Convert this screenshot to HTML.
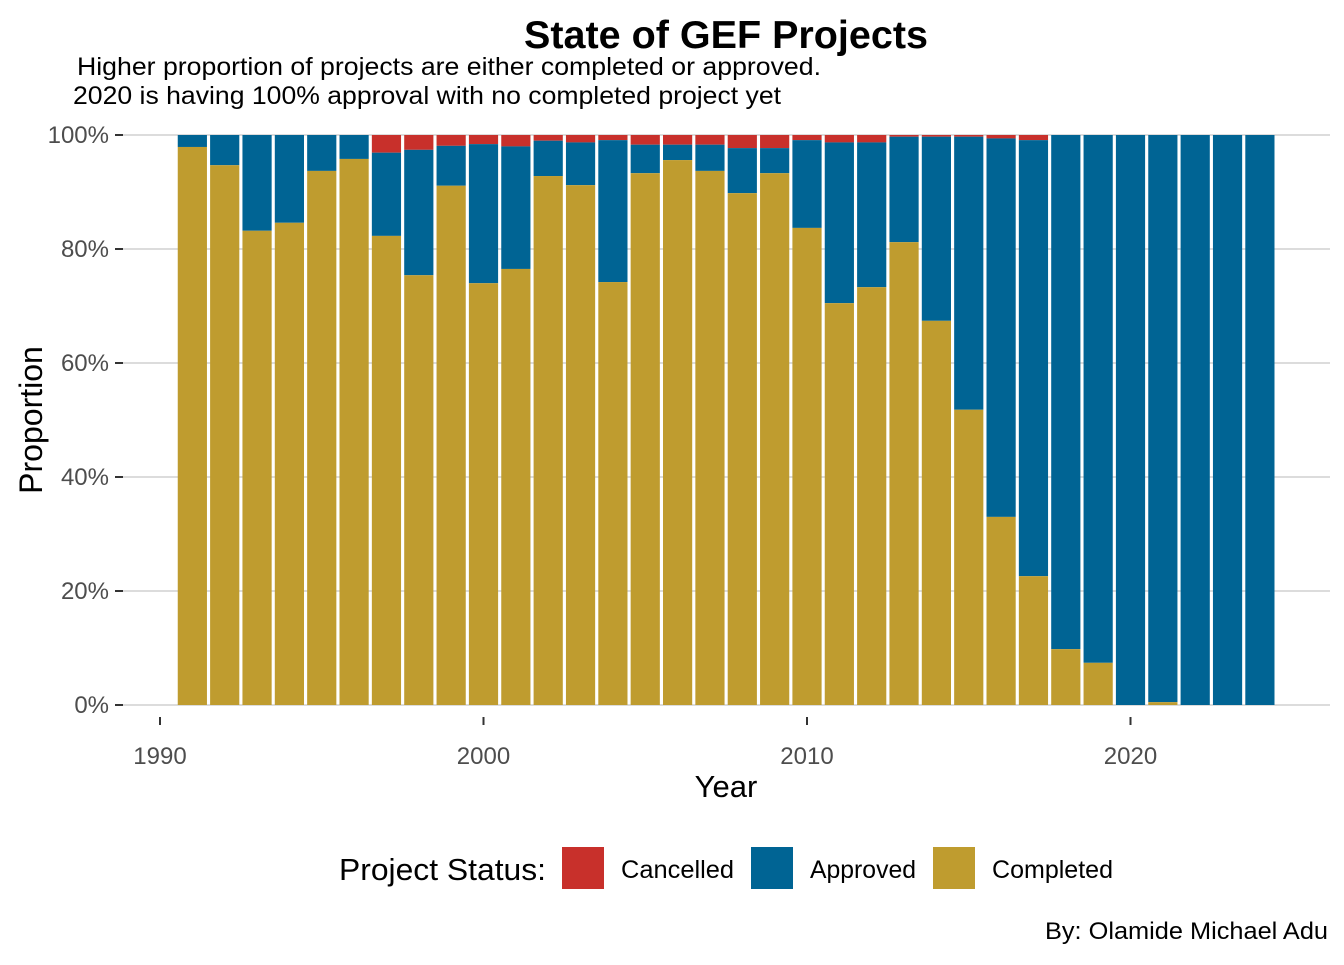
<!DOCTYPE html>
<html><head><meta charset="utf-8"><style>
body{margin:0;background:#fff;}
svg text{font-family:"Liberation Sans",sans-serif;}
</style></head><body>
<svg id="chart" width="1344" height="960" xmlns="http://www.w3.org/2000/svg">
<text x="524" y="48" textLength="404" lengthAdjust="spacingAndGlyphs" font-size="39" font-weight="bold" fill="#000">State of GEF Projects</text>
<text x="77" y="75" textLength="744" lengthAdjust="spacingAndGlyphs" font-size="25" fill="#000">Higher proportion of projects are either completed or approved.</text>
<text x="73" y="104" textLength="708" lengthAdjust="spacingAndGlyphs" font-size="25" fill="#000">2020 is having 100% approval with no completed project yet</text>
<g id="grid"></g>
<g id="bars"></g>
<g id="axes"></g>
<text x="726" y="797" text-anchor="middle" font-size="31" fill="#000">Year</text>
<text transform="translate(42,420) rotate(-90)" text-anchor="middle" font-size="32" fill="#000">Proportion</text>
<g>
<text x="339" y="880" textLength="207" lengthAdjust="spacingAndGlyphs" font-size="31" fill="#000">Project Status:</text>
<rect x="562" y="847" width="42" height="42" fill="#C8302B"/>
<text x="621" y="878" textLength="113" lengthAdjust="spacingAndGlyphs" font-size="25" fill="#000">Cancelled</text>
<rect x="751" y="847" width="42" height="42" fill="#006494"/>
<text x="810" y="878" textLength="106" lengthAdjust="spacingAndGlyphs" font-size="25" fill="#000">Approved</text>
<rect x="933" y="847" width="42" height="42" fill="#BF9C2F"/>
<text x="992" y="878" textLength="121" lengthAdjust="spacingAndGlyphs" font-size="25" fill="#000">Completed</text>
</g>
<text x="1045" y="939" textLength="283" lengthAdjust="spacingAndGlyphs" font-size="24" fill="#000">By: Olamide Michael Adu</text>
</svg>
<script>
const years = [1991,1992,1993,1994,1995,1996,1997,1998,1999,2000,2001,2002,2003,2004,2005,2006,2007,2008,2009,2010,2011,2012,2013,2014,2015,2016,2017,2018,2019,2020,2021,2022,2023,2024];
const completed = [97.9,94.7,83.2,84.6,93.7,95.8,82.3,75.4,91.1,74.0,76.5,92.8,91.2,74.2,93.3,95.6,93.7,89.8,93.3,83.7,70.5,73.3,81.2,67.4,51.8,33.0,22.6,9.8,7.4,0,0.5,0,0,0];
const cancelled = [0,0,0,0,0,0,3.1,2.6,1.9,1.6,2.0,1.0,1.3,0.9,1.7,1.7,1.7,2.3,2.3,0.9,1.3,1.3,0.3,0.3,0.3,0.6,0.9,0,0,0,0,0,0,0];
const yTicks = [0,20,40,60,80,100];
const xTicks = [1990,2000,2010,2020];

const NS="http://www.w3.org/2000/svg";
const xs = y => 160 + (y-1990)*32.35;
const ys = p => 705 - p*5.7;
const bw = 29.2;
function mk(tag, attrs, parent){const e=document.createElementNS(NS,tag);for(const k in attrs)e.setAttribute(k,attrs[k]);parent.appendChild(e);return e;}
const grid=document.getElementById('grid'), bars=document.getElementById('bars'), axes=document.getElementById('axes');
yTicks.forEach(t=>{
  const l=mk('line',{x1:115,x2:1330,y1:ys(t),y2:ys(t),stroke:'#dcdcdc','stroke-width':2},grid);
  
  
  const tk=mk('line',{x1:115,x2:123,y1:ys(t),y2:ys(t),stroke:'#333','stroke-width':2},axes);
  
  
  const tx=mk('text',{x:109,y:ys(t)+8,'text-anchor':'end','font-size':24,fill:'#4d4d4d'},axes);
  tx.textContent=t+'%';
  
  
});
xTicks.forEach(t=>{
  const tk=mk('line',{x1:xs(t),x2:xs(t),y1:717,y2:725,stroke:'#333','stroke-width':2},axes);
  
  
  const tx=mk('text',{x:xs(t),y:764,'text-anchor':'middle','font-size':24,fill:'#4d4d4d'},axes);
  tx.textContent=t;
  
  
});
years.forEach((y,i)=>{
  const x=xs(y)-bw/2, c=completed[i], k=cancelled[i], a=100-c-k;
  const r1=mk('rect',{x:x,y:ys(100),width:bw,height:k*5.7,fill:'#C8302B'},bars);
  
  
  const r2=mk('rect',{x:x,y:ys(100-k),width:bw,height:a*5.7,fill:'#006494'},bars);
  
  
  const r3=mk('rect',{x:x,y:ys(c),width:bw,height:c*5.7,fill:'#BF9C2F'},bars);
  
  
});
</script>
</body></html>
